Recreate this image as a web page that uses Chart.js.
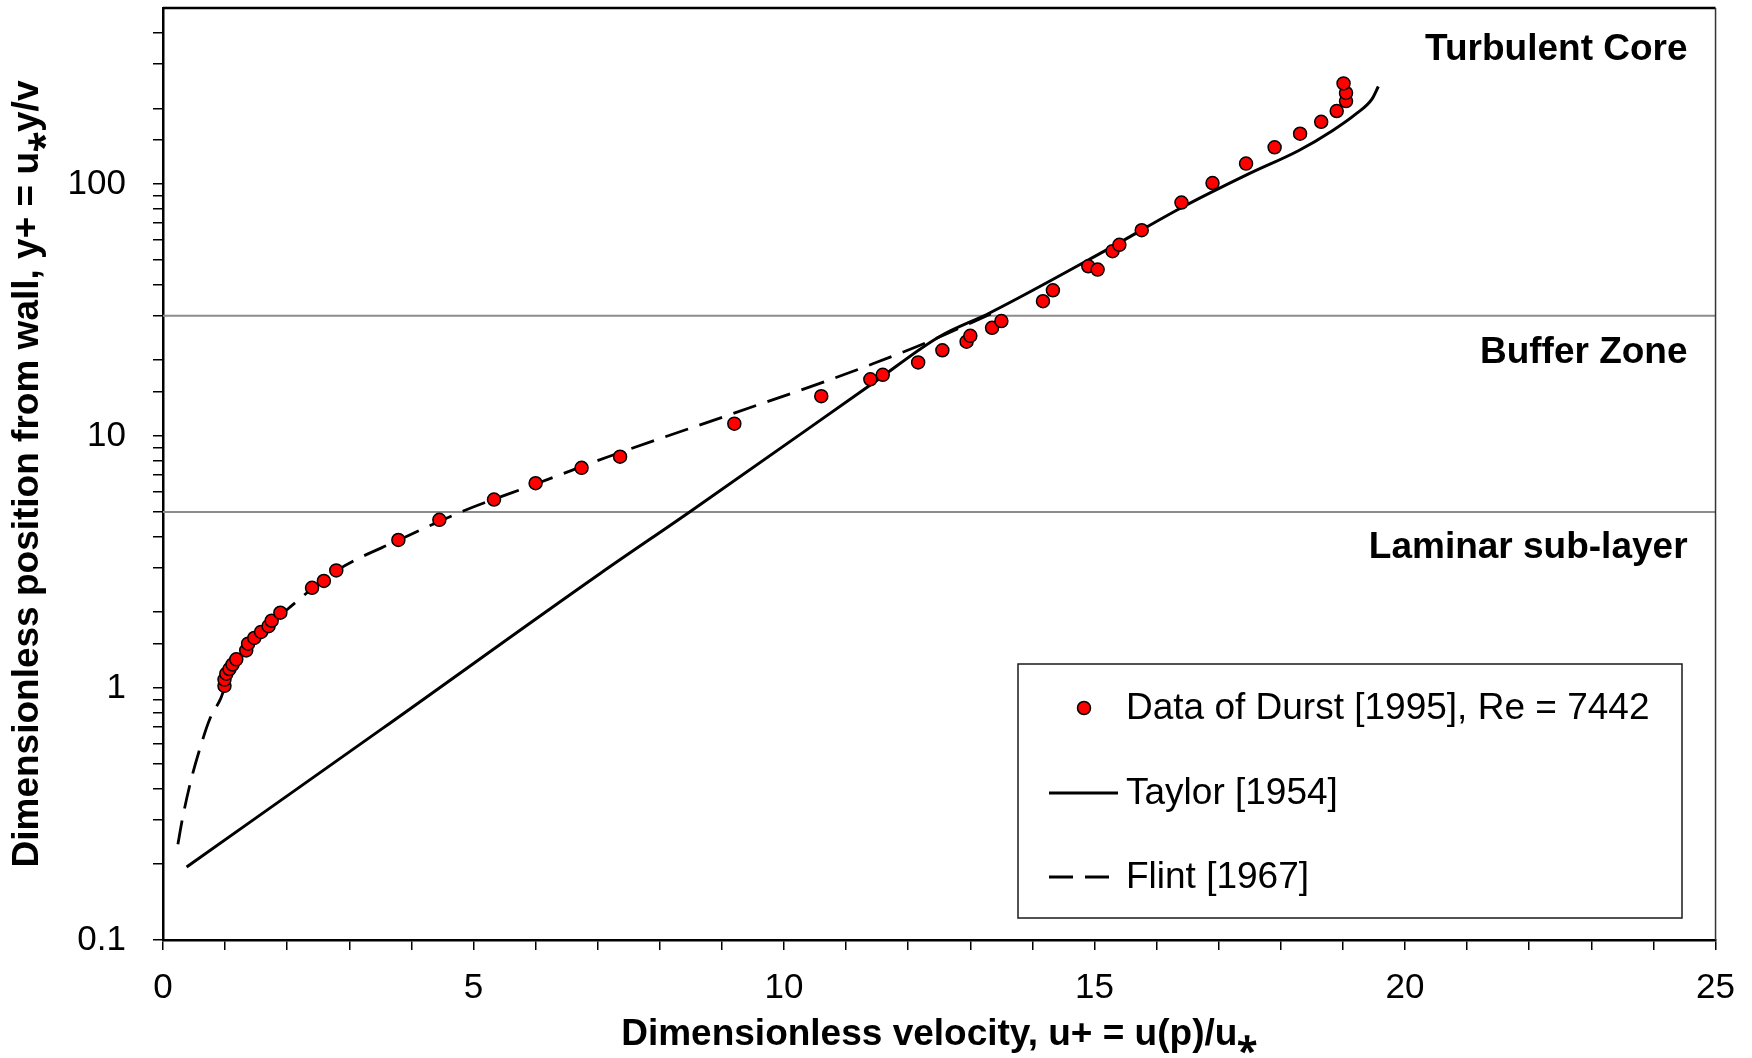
<!DOCTYPE html>
<html>
<head>
<meta charset="utf-8">
<title>Velocity profile near the wall</title>
<script src="https://cdn.jsdelivr.net/npm/chart.js@4.4.1/dist/chart.umd.min.js"></script>
<style>
    html, body { margin: 0; padding: 0; background: #ffffff; }
    #wrap { width: 1752px; height: 1058px; }
</style>
</head>
<body>
<div id="wrap"><canvas id="profile-chart"></canvas></div>
<script>
// Data of Durst [1995], Re = 7442 (u+, y+)
var durstU = [0.99, 0.99, 1.02, 1.07, 1.12, 1.18, 1.34, 1.37, 1.47, 1.58, 1.70, 1.75, 1.89,
    2.40, 2.59, 2.79, 3.79, 4.45, 5.33, 6.00, 6.74, 7.36, 9.20, 10.60, 11.39, 11.59, 12.16,
    12.55, 12.94, 13.00, 13.35, 13.50, 14.17, 14.33, 14.90, 15.05, 15.29, 15.40, 15.76,
    16.40, 16.90, 17.44, 17.90, 18.31, 18.65, 18.90, 19.05, 19.05, 19.01];
var durstY = [1.02, 1.08, 1.14, 1.19, 1.24, 1.30, 1.41, 1.50, 1.58, 1.67, 1.76, 1.85, 1.99,
    2.50, 2.66, 2.93, 3.87, 4.65, 5.60, 6.50, 7.48, 8.28, 11.2, 14.4, 16.8, 17.5, 19.6,
    21.9, 23.7, 25.0, 26.9, 28.6, 34.3, 37.9, 47.2, 45.8, 54.2, 57.4, 65.6,
    84.5, 101, 120.6, 140, 158.5, 176.8, 195, 213.6, 230, 251];

// Taylor [1954]
var taylorU = [0.38, 3.53, 7.04, 8.48, 11.43, 12.50, 13.31, 15.18, 16.42, 17.49, 18.29, 18.83, 19.21, 19.47, 19.57];
var taylorY = [0.195, 0.69, 2.85, 5.0, 16.2, 24.8, 30.8, 54.6, 81.1, 110, 136, 163, 190, 218, 244];

// Flint [1967]
var flintU = [0.24, 0.31, 0.44, 0.58, 0.76, 0.93, 1.05, 1.20, 1.50, 2.05, 2.80, 3.80, 4.80,
    6.00, 7.17, 9.10, 10.73, 11.44, 12.33, 13.35];
var flintY = [0.24, 0.30, 0.42, 0.56, 0.76, 0.91, 1.10, 1.28, 1.58, 2.10, 2.93, 3.87, 5.0,
    6.45, 8.28, 12.1, 16.7, 19.4, 23.7, 30.7];

// zone boundaries (y+) and zone names
var zoneBoundaries = [5, 30];
var zoneNames = ['Turbulent Core', 'Buffer Zone', 'Laminar sub-layer'];

var xTickLabels = [0, 5, 10, 15, 20, 25];
var yTickLabels = [0.1, 1, 10, 100];

var fontFamily = "'Liberation Sans', Arial, sans-serif";
Chart.defaults.font.family = fontFamily;
Chart.defaults.color = '#000000';

function toPoints(xs, ys) {
    return xs.map(function (x, i) { return { x: x, y: ys[i] }; });
}

var datasets = [{
    label: 'Data of Durst [1995], Re = 7442',
    data: toPoints(durstU, durstY),
    pointRadius: 6.5,
    pointBackgroundColor: '#ff0000',
    pointBorderColor: '#000000',
    pointBorderWidth: 1.5,
    showLine: false,
    order: 0,
    legendKind: 'point'
}, {
    label: 'Taylor [1954]',
    data: toPoints(taylorU, taylorY),
    borderColor: '#000000',
    borderWidth: 3,
    pointRadius: 0,
    showLine: true,
    cubicInterpolationMode: 'monotone',
    order: 1,
    legendKind: 'line'
}, {
    label: 'Flint [1967]',
    data: toPoints(flintU, flintY),
    borderColor: '#000000',
    borderWidth: 2.8,
    borderDash: [24, 12],
    pointRadius: 0,
    showLine: true,
    cubicInterpolationMode: 'monotone',
    order: 1,
    legendKind: 'dash'
}];

// gray horizontal lines between the zones
zoneBoundaries.forEach(function (b) {
    datasets.push({
        label: 'zone ' + b,
        data: [{ x: 0, y: b }, { x: 25, y: b }],
        borderColor: '#8c8c8c',
        borderWidth: 2,
        pointRadius: 0,
        showLine: true,
        order: 2
    });
});

// top and right border of the plot
var framePlugin = {
    id: 'frame',
    afterDatasetsDraw: function (chart) {
        var a = chart.chartArea;
        var ctx = chart.ctx;
        ctx.save();
        ctx.strokeStyle = '#000000';
        ctx.lineWidth = 2.5;
        ctx.beginPath();
        ctx.moveTo(a.left, a.top);
        ctx.lineTo(a.right, a.top);
        ctx.stroke();
        ctx.strokeStyle = '#333333';
        ctx.lineWidth = 1.5;
        ctx.beginPath();
        ctx.moveTo(a.right, a.top);
        ctx.lineTo(a.right, a.bottom);
        ctx.stroke();
        ctx.restore();
    }
};

// names of the three zones, right aligned
var zonePlugin = {
    id: 'zones',
    afterDatasetsDraw: function (chart) {
        var ctx = chart.ctx;
        var yScale = chart.scales.y;
        var right = chart.chartArea.right - 28;
        var anchors = [340, 21.5, 3.6];
        ctx.save();
        ctx.font = 'bold 37px ' + fontFamily;
        ctx.fillStyle = '#000000';
        ctx.textAlign = 'right';
        ctx.textBaseline = 'middle';
        zoneNames.forEach(function (name, i) {
            ctx.fillText(name, right, yScale.getPixelForValue(anchors[i]));
        });
        ctx.restore();
    }
};

// boxed legend inside the plot
var legendPlugin = {
    id: 'boxLegend',
    afterDraw: function (chart) {
        var ctx = chart.ctx;
        var box = { x: 1018, y: 664, w: 664, h: 254 };
        var rows = [44, 129, 213];
        ctx.save();
        ctx.fillStyle = '#ffffff';
        ctx.fillRect(box.x, box.y, box.w, box.h);
        ctx.strokeStyle = '#1a1a1a';
        ctx.lineWidth = 1.5;
        ctx.strokeRect(box.x, box.y, box.w, box.h);

        var shown = chart.data.datasets.filter(function (d) { return d.legendKind; });
        shown.forEach(function (d, i) {
            var y = box.y + rows[i];
            ctx.strokeStyle = '#000000';
            if (d.legendKind === 'point') {
                ctx.beginPath();
                ctx.arc(box.x + 66, y, 6.5, 0, Math.PI * 2);
                ctx.fillStyle = d.pointBackgroundColor;
                ctx.fill();
                ctx.lineWidth = 1.5;
                ctx.stroke();
            } else {
                ctx.lineWidth = d.borderWidth;
                ctx.setLineDash(d.borderDash || []);
                ctx.beginPath();
                ctx.moveTo(box.x + 31, y);
                ctx.lineTo(box.x + (d.borderDash ? 92 : 100), y);
                ctx.stroke();
                ctx.setLineDash([]);
            }
            ctx.fillStyle = '#000000';
            ctx.font = '37px ' + fontFamily;
            ctx.textAlign = 'left';
            ctx.textBaseline = 'middle';
            ctx.fillText(d.label, box.x + 108, y + 1);
        });
        ctx.restore();
    }
};

var ctx = document.getElementById('profile-chart').getContext('2d');
var chart = new Chart(ctx, {
    type: 'scatter',
    data: { datasets: datasets },
    plugins: [framePlugin, zonePlugin, legendPlugin],
    options: {
        responsive: true,
        maintainAspectRatio: false,
        animation: false,
        layout: { padding: { top: 8, right: 35, left: 0, bottom: 0 } },
        plugins: {
            legend: { display: false },
            tooltip: { enabled: false }
        },
        scales: {
            x: {
                type: 'linear',
                position: 'bottom',
                min: 0,
                max: 25,
                ticks: {
                    stepSize: 1,
                    autoSkip: false,
                    maxRotation: 0,
                    padding: 17,
                    color: '#000000',
                    font: { size: 35 },
                    callback: function (value) {
                        return xTickLabels.indexOf(value) >= 0 ? String(value) : '';
                    }
                },
                grid: {
                    drawOnChartArea: false,
                    drawTicks: true,
                    tickLength: 10,
                    color: '#000000',
                    lineWidth: 1.5
                },
                border: { color: '#000000', width: 2.5 },
                title: {
                    display: true,
                    text: 'Dimensionless velocity, u+ = u(p)/u\u204E',
                    color: '#000000',
                    font: { size: 37, weight: 'bold' },
                    padding: { top: 0, bottom: 1 }
                },
                afterFit: function (scale) {
                    scale.height = 118;
                }
            },
            y: {
                type: 'logarithmic',
                min: 0.1,
                max: 500,
                ticks: {
                    autoSkip: false,
                    padding: 27,
                    color: '#000000',
                    font: { size: 35 },
                    callback: function (value) {
                        if (value > 450) return null;
                        var v = +Number(value).toPrecision(3);
                        return yTickLabels.indexOf(v) >= 0 ? String(v) : '';
                    }
                },
                grid: {
                    drawOnChartArea: false,
                    drawTicks: true,
                    tickLength: 10,
                    color: '#000000',
                    lineWidth: 1.5
                },
                border: { color: '#000000', width: 2.5 },
                title: {
                    display: true,
                    text: 'Dimensionless position from wall, y+ = u\u204Ey/v',
                    color: '#000000',
                    font: { size: 37, weight: 'bold' },
                    padding: { top: 6, bottom: 0 }
                },
                afterFit: function (scale) {
                    scale.width = 163;
                    scale.paddingTop = 0;
                    scale.paddingBottom = 0;
                }
            }
        }
    }
});
</script>
</body>
</html>
